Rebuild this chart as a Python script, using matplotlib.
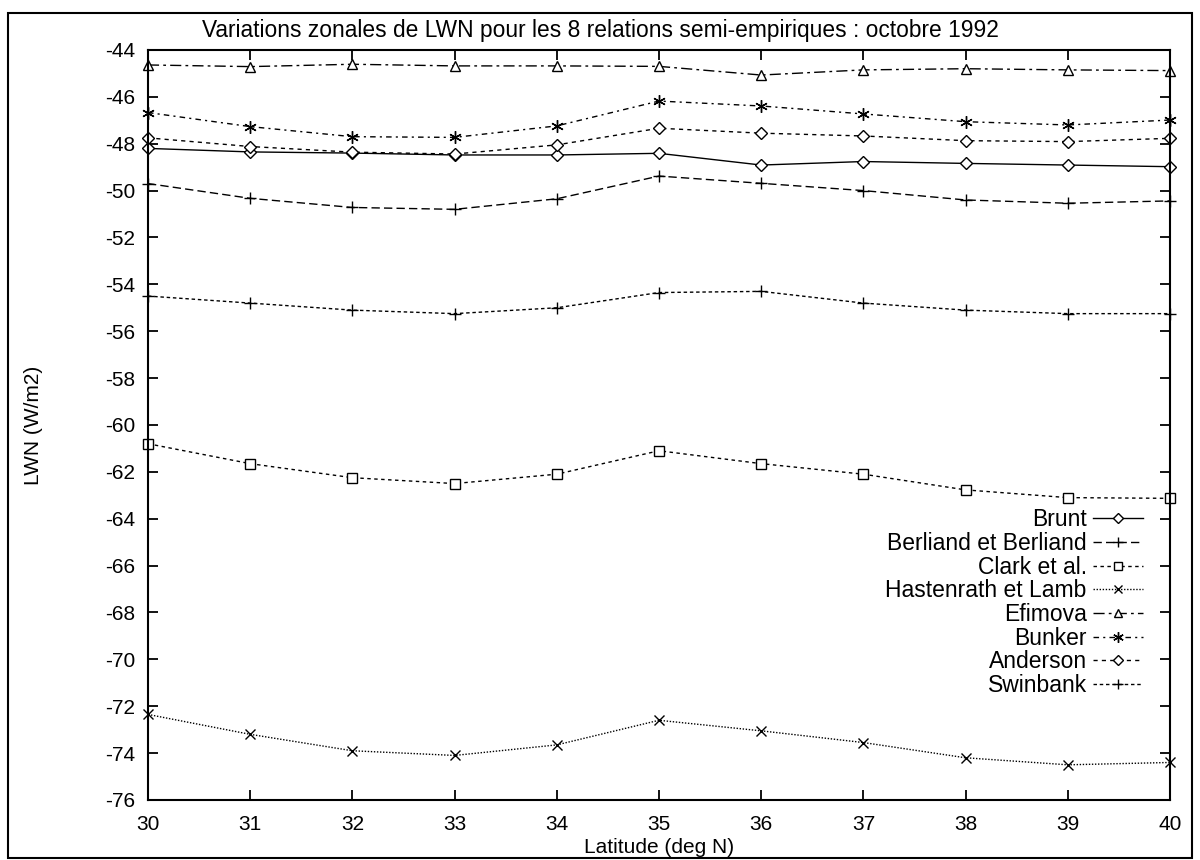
import numpy as np
from matplotlib import pyplot as plt
from matplotlib.patches import Rectangle

plt.rcParams['font.family'] = ['Liberation Sans', 'DejaVu Sans']
plt.rcParams['axes.unicode_minus'] = False

latitude = [30, 31, 32, 33, 34, 35, 36, 37, 38, 39, 40]

brunt = [-48.2, -48.35, -48.4, -48.48, -48.48, -48.41, -48.91, -48.76, -48.84, -48.91, -48.98]
berliand = [-49.7, -50.33, -50.72, -50.8, -50.35, -49.38, -49.69, -50.0, -50.4, -50.54, -50.44]
clark = [-60.8, -61.65, -62.25, -62.5, -62.1, -61.1, -61.65, -62.1, -62.77, -63.1, -63.13]
hastenrath = [-72.35, -73.2, -73.9, -74.1, -73.65, -72.6, -73.05, -73.55, -74.2, -74.5, -74.4]
efimova = [-44.64, -44.71, -44.61, -44.68, -44.68, -44.7, -45.07, -44.85, -44.8, -44.85, -44.88]
bunker = [-46.67, -47.27, -47.7, -47.73, -47.24, -46.18, -46.39, -46.73, -47.06, -47.2, -46.99]
anderson = [-47.75, -48.12, -48.36, -48.44, -48.05, -47.34, -47.55, -47.67, -47.87, -47.91, -47.77]
swinbank = [-54.5, -54.8, -55.1, -55.25, -55.0, -54.35, -54.3, -54.8, -55.1, -55.25, -55.25]

series_names = ['Brunt', 'Berliand et Berliand', 'Clark et al.', 'Hastenrath et Lamb',
                'Efimova', 'Bunker', 'Anderson', 'Swinbank']
x_ticks = list(range(30, 41))
y_ticks = list(range(-76, -43, 2))

fig = plt.figure(figsize=(12, 8.6), dpi=100)
ax = fig.add_axes([0.1233, 0.0698, 0.8517, 0.8721])

styles = [
    (brunt, 'D', '-', 6),
    (berliand, '+', (0, (6, 3)), 8),
    (clark, 's', (0, (2.5, 2.5)), 6.5),
    (hastenrath, 'x', (0, (1, 1.2)), 7),
    (efimova, '^', (0, (8, 3, 2, 3)), 7),
    (bunker, (6, 2, 0), (0, (4, 3, 1.5, 3)), 9),
    (anderson, 'D', (0, (3, 3)), 6),
    (swinbank, '+', (0, (2.5, 2)), 8),
]

for (vals, mk, ls, ms), name in zip(styles, series_names):
    ax.plot(latitude, vals, color='black', linestyle=ls, linewidth=1.0,
            marker=mk, markersize=ms, markerfacecolor='white',
            markeredgecolor='black', markeredgewidth=1.0, label=name,
            clip_on=False)

ax.set_xlim(30, 40)
ax.set_ylim(-76, -44)
ax.set_xticks(x_ticks)
ax.set_yticks(y_ticks)
ax.tick_params(direction='in', length=7.5, width=1.3, top=True, right=True,
               labelsize=15)
ax.tick_params(axis='x', pad=11)
ax.tick_params(axis='y', pad=9)
for sp in ax.spines.values():
    sp.set_linewidth(1.5)

ax.set_xlabel('Latitude (deg N)', fontsize=15)
ax.xaxis.set_label_coords(0.5, -0.051)
ax.set_ylabel('LWN (W/m2)', fontsize=15)
ax.yaxis.set_label_coords(-0.103, 0.5)

fig.text(0.5, 1 - 30 / 860, 'Variations zonales de LWN pour les 8 relations semi-empiriques : octobre 1992',
         ha='center', va='center', fontsize=16.4)

leg = ax.legend(loc='upper right', bbox_to_anchor=(0.9736, 0.389), frameon=False,
                markerfirst=False, fontsize=16.5, handlelength=2.2,
                handletextpad=0.25, labelspacing=0.03, borderpad=0,
                borderaxespad=0, markerscale=0.85)
for t in leg.get_texts():
    t.set_ha('right')
leg._legend_box.align = 'right'

fig.add_artist(Rectangle((8 / 1200, 2 / 860), 1184 / 1200, 845 / 860,
                         transform=fig.transFigure, fill=False,
                         edgecolor='black', linewidth=1.5))

fig.savefig('out.png', dpi=100)
